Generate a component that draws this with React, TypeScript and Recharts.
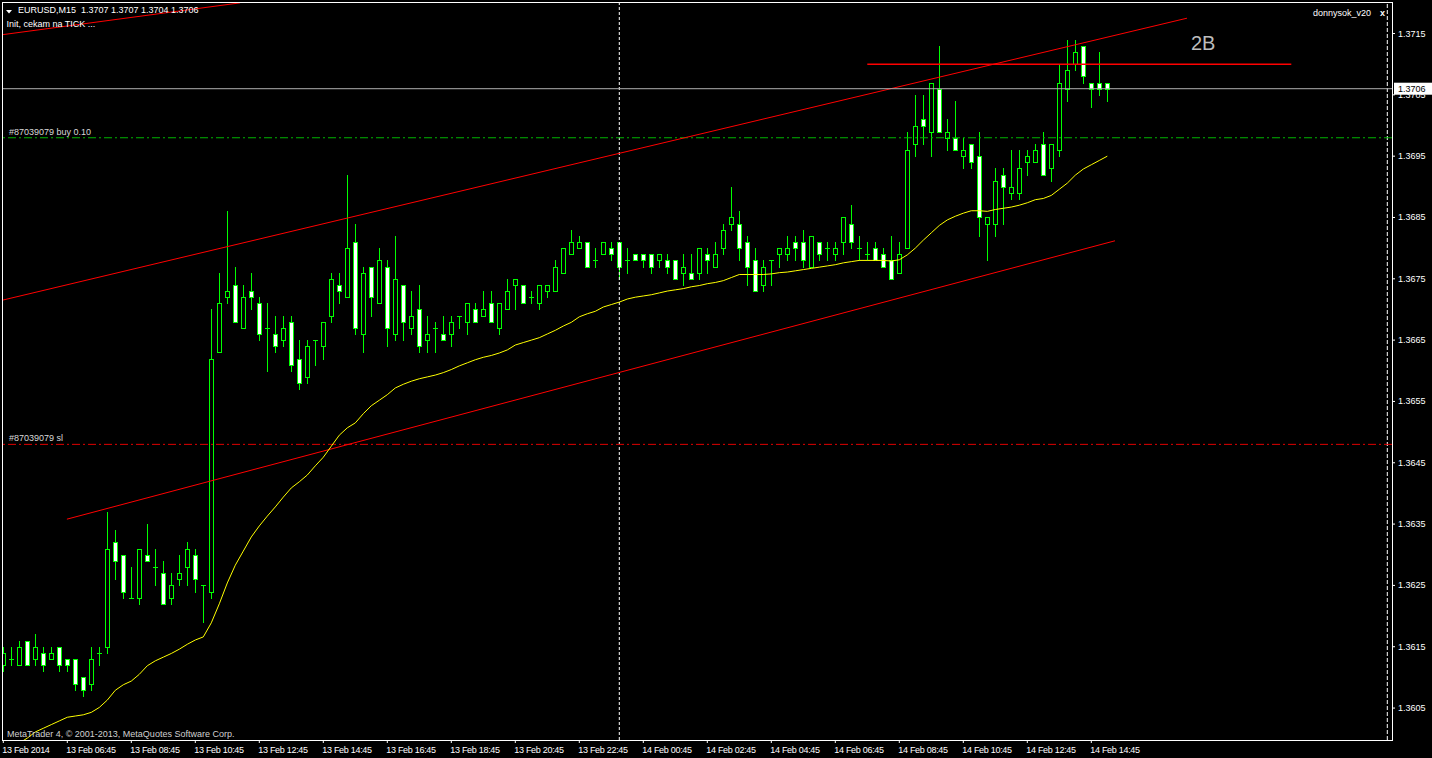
import { ComposedChart, Bar, Line, XAxis, YAxis, ReferenceLine } from "recharts";

const FONT = "'Liberation Sans', Arial, sans-serif";
const LIME = "#00ff00";

// EURUSD M15, one bar every 15 minutes from 13 Feb 04:45 (index 0) to 14 Feb 15:15 (index 138)
const opens = [
  1.3612, 1.3613, 1.3612, 1.3616, 1.3613, 1.3614, 1.3613, 1.3615, 1.3613, 1.3613,
  1.3610, 1.3609, 1.3614, 1.3615, 1.3632, 1.3630, 1.3623, 1.3623, 1.3630, 1.3628,
  1.3627, 1.3623, 1.3626, 1.3628, 1.3630, 1.3625, 1.3624, 1.3663, 1.3672, 1.3674,
  1.3667, 1.3673, 1.3671, 1.3667, 1.3666, 1.3665, 1.3668, 1.3662, 1.3659, 1.3665,
  1.3664, 1.3669, 1.3674, 1.3672, 1.3681, 1.3666, 1.3677, 1.3671, 1.3677, 1.3666,
  1.3674, 1.3667, 1.3670, 1.3665, 1.3667, 1.3666, 1.3666, 1.3669, 1.3668, 1.3670,
  1.3669, 1.3671, 1.3667, 1.3670, 1.3674, 1.3674, 1.3672, 1.3671, 1.3673, 1.3673,
  1.3676, 1.3679, 1.3680, 1.3681, 1.3678, 1.3679, 1.3680, 1.3681, 1.3678, 1.3679,
  1.3679, 1.3679, 1.3678, 1.3678, 1.3678, 1.3676, 1.3676, 1.3676, 1.3679, 1.3677,
  1.3680, 1.3684, 1.3684, 1.3681, 1.3678, 1.3674, 1.3678, 1.3679, 1.3679, 1.3681,
  1.3681, 1.3677, 1.3681, 1.3680, 1.3679, 1.3681, 1.3684, 1.3680, 1.3679, 1.3680,
  1.3679, 1.3678, 1.3676, 1.3680, 1.3697, 1.3701, 1.3699, 1.3706, 1.3698, 1.3698,
  1.3695, 1.3697, 1.3695, 1.3684, 1.3684, 1.3692, 1.3689, 1.3689, 1.3694, 1.3694,
  1.3697, 1.3693, 1.3696, 1.3706, 1.3710, 1.3713, 1.3707, 1.3707, 1.3707,
];
const highs = [
  1.3615, 1.3615, 1.3616, 1.3616, 1.3617, 1.3615, 1.3615, 1.3615, 1.3613, 1.3613,
  1.3610, 1.3615, 1.3615, 1.3637, 1.3634, 1.3630, 1.3628, 1.3631, 1.3635, 1.3631,
  1.3629, 1.3627, 1.3630, 1.3632, 1.3631, 1.3625, 1.3670, 1.3676, 1.3686, 1.3677,
  1.3674, 1.3676, 1.3672, 1.3671, 1.3669, 1.3669, 1.3669, 1.3665, 1.3665, 1.3665,
  1.3668, 1.3676, 1.3676, 1.3692, 1.3684, 1.3677, 1.3677, 1.3680, 1.3678, 1.3682,
  1.3674, 1.3673, 1.3674, 1.3669, 1.3668, 1.3669, 1.3669, 1.3669, 1.3671, 1.3671,
  1.3673, 1.3673, 1.3671, 1.3675, 1.3675, 1.3674, 1.3673, 1.3674, 1.3674, 1.3678,
  1.3680, 1.3683, 1.3682, 1.3681, 1.3680, 1.3681, 1.3681, 1.3681, 1.3680, 1.3679,
  1.3679, 1.3679, 1.3679, 1.3679, 1.3678, 1.3679, 1.3679, 1.3680, 1.3680, 1.3681,
  1.3684, 1.3690, 1.3686, 1.3682, 1.3680, 1.3678, 1.3678, 1.3680, 1.3682, 1.3682,
  1.3683, 1.3682, 1.3681, 1.3681, 1.3681, 1.3685, 1.3687, 1.3682, 1.3681, 1.3681,
  1.3680, 1.3682, 1.3681, 1.3699, 1.3705, 1.3705, 1.3707, 1.3713, 1.3701, 1.3704,
  1.3698, 1.3697, 1.3699, 1.3685, 1.3693, 1.3693, 1.3696, 1.3696, 1.3696, 1.3697,
  1.3699, 1.3697, 1.3710, 1.3714, 1.3714, 1.3713, 1.3707, 1.3712, 1.3707,
];
const lows = [
  1.3611, 1.3612, 1.3612, 1.3612, 1.3612, 1.3611, 1.3613, 1.3611, 1.3611, 1.3608,
  1.3607, 1.3608, 1.3612, 1.3614, 1.3626, 1.3623, 1.3623, 1.3622, 1.3629, 1.3625,
  1.3622, 1.3622, 1.3625, 1.3625, 1.3624, 1.3619, 1.3623, 1.3663, 1.3671, 1.3668,
  1.3667, 1.3670, 1.3665, 1.3660, 1.3663, 1.3664, 1.3660, 1.3657, 1.3658, 1.3661,
  1.3662, 1.3668, 1.3671, 1.3672, 1.3666, 1.3663, 1.3669, 1.3671, 1.3664, 1.3665,
  1.3665, 1.3666, 1.3663, 1.3663, 1.3663, 1.3665, 1.3664, 1.3667, 1.3666, 1.3668,
  1.3669, 1.3668, 1.3666, 1.3670, 1.3670, 1.3671, 1.3671, 1.3670, 1.3672, 1.3673,
  1.3676, 1.3679, 1.3680, 1.3677, 1.3677, 1.3679, 1.3678, 1.3675, 1.3676, 1.3678,
  1.3677, 1.3676, 1.3677, 1.3676, 1.3675, 1.3674, 1.3675, 1.3675, 1.3676, 1.3677,
  1.3679, 1.3683, 1.3678, 1.3674, 1.3673, 1.3673, 1.3674, 1.3677, 1.3678, 1.3678,
  1.3677, 1.3677, 1.3678, 1.3678, 1.3678, 1.3679, 1.3680, 1.3678, 1.3678, 1.3678,
  1.3677, 1.3675, 1.3676, 1.3680, 1.3695, 1.3697, 1.3695, 1.3699, 1.3696, 1.3696,
  1.3693, 1.3693, 1.3682, 1.3678, 1.3682, 1.3684, 1.3688, 1.3688, 1.3692, 1.3694,
  1.3692, 1.3691, 1.3695, 1.3704, 1.3709, 1.3707, 1.3703, 1.3705, 1.3704,
];
const closes = [
  1.3614, 1.3613, 1.3615, 1.3612, 1.3615, 1.3612, 1.3614, 1.3612, 1.3612, 1.3609,
  1.3608, 1.3613, 1.3614, 1.3631, 1.3629, 1.3624, 1.3623, 1.3631, 1.3629, 1.3628,
  1.3622, 1.3625, 1.3627, 1.3631, 1.3626, 1.3625, 1.3662, 1.3671, 1.3673, 1.3668,
  1.3672, 1.3672, 1.3666, 1.3667, 1.3664, 1.3667, 1.3661, 1.3658, 1.3664, 1.3665,
  1.3668, 1.3675, 1.3673, 1.3680, 1.3667, 1.3676, 1.3672, 1.3678, 1.3667, 1.3675,
  1.3668, 1.3669, 1.3664, 1.3666, 1.3667, 1.3665, 1.3668, 1.3669, 1.3671, 1.3668,
  1.3670, 1.3668, 1.3671, 1.3673, 1.3675, 1.3671, 1.3672, 1.3674, 1.3674, 1.3677,
  1.3680, 1.3681, 1.3681, 1.3677, 1.3678, 1.3681, 1.3679, 1.3677, 1.3678, 1.3678,
  1.3678, 1.3677, 1.3679, 1.3677, 1.3675, 1.3677, 1.3675, 1.3680, 1.3678, 1.3679,
  1.3683, 1.3685, 1.3680, 1.3677, 1.3673, 1.3677, 1.3678, 1.3680, 1.3680, 1.3680,
  1.3678, 1.3682, 1.3679, 1.3680, 1.3680, 1.3685, 1.3681, 1.3680, 1.3679, 1.3678,
  1.3677, 1.3675, 1.3679, 1.3696, 1.3700, 1.3700, 1.3707, 1.3699, 1.3699, 1.3696,
  1.3696, 1.3694, 1.3685, 1.3685, 1.3691, 1.3690, 1.3690, 1.3693, 1.3695, 1.3696,
  1.3692, 1.3697, 1.3707, 1.3709, 1.3712, 1.3708, 1.3706, 1.3706, 1.3706,
];
// yellow moving average at every bar
const maValues = [
  1.35973, 1.35982, 1.35993, 1.36001, 1.36011, 1.36017, 1.36023, 1.36029, 1.36035, 1.36037,
  1.36039, 1.36043, 1.36051, 1.36063, 1.36079, 1.36088, 1.36094, 1.36105, 1.36119, 1.36127,
  1.36133, 1.36139, 1.36146, 1.36154, 1.36161, 1.36166, 1.36189, 1.36220, 1.36254, 1.36283,
  1.36306, 1.36329, 1.36347, 1.36363, 1.36378, 1.36394, 1.36409, 1.36419, 1.36430, 1.36445,
  1.36459, 1.36477, 1.36495, 1.36507, 1.36515, 1.36530, 1.36543, 1.36552, 1.36561, 1.36572,
  1.36578, 1.36583, 1.36587, 1.36590, 1.36593, 1.36597, 1.36602, 1.36608, 1.36613, 1.36618,
  1.36622, 1.36625, 1.36629, 1.36634, 1.36642, 1.36646, 1.36650, 1.36654, 1.36660, 1.36666,
  1.36673, 1.36679, 1.36688, 1.36693, 1.36697, 1.36704, 1.36708, 1.36712, 1.36717, 1.36720,
  1.36722, 1.36724, 1.36727, 1.36730, 1.36732, 1.36734, 1.36737, 1.36739, 1.36742, 1.36744,
  1.36747, 1.36752, 1.36757, 1.36757, 1.36757, 1.36757, 1.36758, 1.36760, 1.36761, 1.36763,
  1.36765, 1.36767, 1.36769, 1.36771, 1.36773, 1.36776, 1.36778, 1.36780, 1.36780, 1.36780,
  1.36780, 1.36779, 1.36781, 1.36789, 1.36800, 1.36813, 1.36825, 1.36837, 1.36846, 1.36852,
  1.36857, 1.36861, 1.36861, 1.36860, 1.36863, 1.36865, 1.36867, 1.36870, 1.36874, 1.36879,
  1.36881, 1.36886, 1.36896, 1.36906, 1.36919, 1.36929, 1.36936, 1.36943, 1.36950,
];

const timeTicks = [0, 8, 16, 24, 32, 40, 48, 56, 64, 72, 80, 88, 96, 104, 112, 120, 128, 136];
const timeLabels = [
  "13 Feb 2014", "13 Feb 06:45", "13 Feb 08:45", "13 Feb 10:45", "13 Feb 12:45", "13 Feb 14:45",
  "13 Feb 16:45", "13 Feb 18:45", "13 Feb 20:45", "13 Feb 22:45", "14 Feb 00:45", "14 Feb 02:45",
  "14 Feb 04:45", "14 Feb 06:45", "14 Feb 08:45", "14 Feb 10:45", "14 Feb 12:45", "14 Feb 14:45",
];
const priceTicks = [1.3605, 1.3615, 1.3625, 1.3635, 1.3645, 1.3655, 1.3665, 1.3675, 1.3685, 1.3695, 1.3705, 1.3715];

const bidPrice = 1.3706;
const buyPrice = 1.3698;
const slPrice = 1.3648;
const levelPrice = 1.371;
const daySeparator = 77;
const markerBar = 173;

// trend lines drawn on the chart (bar index, price)
const upperChannel = [{ x: -0.16, y: 1.36715 }, { x: 147.96, y: 1.37175 }];
const lowerChannel = [{ x: 7.95, y: 1.36358 }, { x: 138.96, y: 1.36812 }];
const topLine = [{ x: -0.16, y: 1.37148 }, { x: 29.6, y: 1.372 }];
const levelLine = [{ x: 108, y: levelPrice }, { x: 161, y: levelPrice }];

const data = opens.map((o, i) => ({
  i,
  o,
  h: highs[i],
  l: lows[i],
  c: closes[i],
  range: [lows[i], highs[i]],
  ma: maValues[i],
}));

function Candle(props: any) {
  const { x, y, width, height, payload } = props;
  if (x == null || y == null || !payload) return null;
  const { o, h, l, c } = payload;
  const top0 = Math.min(y, y + height);
  const hh = Math.abs(height);
  const span = h - l;
  const py = (p: number) => Math.round(span > 0 ? top0 + ((h - p) / span) * hh : top0);
  const col = Math.round(x + width / 2);
  const bodyTop = py(Math.max(o, c)) + 0.5;
  const bodyBot = py(Math.min(o, c)) + 0.5;
  return (
    <g>
      <line x1={col + 0.5} x2={col + 0.5} y1={py(h)} y2={py(l) + 1} stroke={LIME} strokeWidth={1} />
      {o === c ? (
        <line x1={col - 2} x2={col + 3} y1={bodyTop} y2={bodyTop} stroke={LIME} strokeWidth={1} />
      ) : (
        <rect
          x={col - 1.5}
          y={bodyTop}
          width={4}
          height={bodyBot - bodyTop}
          fill={c < o ? "#ffffff" : "#000000"}
          stroke={LIME}
          strokeWidth={1}
        />
      )}
    </g>
  );
}

function TimeTick(props: any) {
  const { x, y, payload } = props;
  const label = timeLabels[timeTicks.indexOf(payload.value)];
  return (
    <text x={x - 1} y={y + 8} fill="#ffffff" fontSize={9} fontFamily={FONT} letterSpacing={-0.3} textAnchor="start">
      {label}
    </text>
  );
}

function PriceTick(props: any) {
  const { x, y, payload } = props;
  return (
    <text x={x} y={y + 3} fill="#ffffff" fontSize={9} fontFamily={FONT} textAnchor="start">
      {Number(payload.value).toFixed(4)}
    </text>
  );
}

function viewBoxOf(props: any) {
  const vb = props.viewBox || props;
  const x = vb.x ?? vb.x1 ?? 0;
  const y = vb.y ?? vb.y1 ?? 0;
  const width = vb.width ?? (vb.x2 != null ? vb.x2 - x : 0);
  return { x, y, width };
}

function BidBox(props: any) {
  const { x, y, width } = viewBoxOf(props);
  const right = x + width;
  return (
    <g>
      <rect x={right + 2} y={y - 6} width={40} height={12} fill="#ffffff" />
      <text x={right + 6} y={y + 3.5} fill="#000000" fontSize={9} fontFamily={FONT}>
        {bidPrice.toFixed(4)}
      </text>
    </g>
  );
}

function OrderLabel(text: string) {
  return (props: any) => {
    const { x, y } = viewBoxOf(props);
    return (
      <text x={x + 7} y={y - 3} fill="#d8d8d8" fontSize={9} fontFamily={FONT}>
        {text}
      </text>
    );
  };
}

export default function App() {
  return (
    <div style={{ position: "relative", width: 1432, height: 758, background: "#000" }}>
      <style>{"body{margin:0;background:#000}"}</style>
      <ComposedChart width={1432} height={758} data={data} margin={{ top: 2, right: 0, bottom: 0, left: 2 }}>
        <XAxis
          dataKey="i"
          type="number"
          domain={[-0.1625, 173.5875]}
          ticks={timeTicks}
          interval={0}
          tick={<TimeTick />}
          tickSize={3}
          tickLine={{ stroke: "#ffffff" }}
          axisLine={false}
          height={18}
          allowDataOverflow
        />
        <YAxis
          orientation="right"
          type="number"
          domain={[1.359979, 1.372014]}
          ticks={priceTicks}
          interval={0}
          tick={<PriceTick />}
          tickSize={3}
          tickMargin={3}
          tickLine={{ stroke: "#ffffff" }}
          axisLine={false}
          width={40}
          allowDataOverflow
        />
        <ReferenceLine x={daySeparator} stroke="#ffffff" strokeDasharray="3 2" />
        <ReferenceLine x={markerBar} stroke="#ffffff" strokeDasharray="4 2" />
        <ReferenceLine y={buyPrice} stroke="#00b400" strokeDasharray="8 3 2 3" label={OrderLabel("#87039079 buy 0.10")} />
        <ReferenceLine y={slPrice} stroke="#e00000" strokeDasharray="8 3 2 3" label={OrderLabel("#87039079 sl")} />
        <ReferenceLine segment={upperChannel} stroke="#ff0000" ifOverflow="hidden" />
        <ReferenceLine segment={lowerChannel} stroke="#ff0000" ifOverflow="hidden" />
        <ReferenceLine segment={topLine} stroke="#ff0000" ifOverflow="hidden" />
        <ReferenceLine segment={levelLine} stroke="#ff0000" strokeWidth={1.5} ifOverflow="hidden" />
        <Line dataKey="ma" stroke="#ffff00" strokeWidth={1} dot={false} activeDot={false} isAnimationActive={false} />
        <Bar dataKey="range" barSize={5} shape={<Candle />} isAnimationActive={false} />
        <ReferenceLine y={bidPrice} stroke="#b0b0b0" label={<BidBox />} />
      </ComposedChart>

      <div
        style={{
          position: "absolute",
          left: 2,
          top: 2,
          width: 1391,
          height: 739,
          boxSizing: "border-box",
          border: "1px solid #ffffff",
          pointerEvents: "none",
        }}
      />

      <svg width={1432} height={758} style={{ position: "absolute", left: 0, top: 0, pointerEvents: "none" }}>
        <polygon points="6,10 12,10 9,13.5" fill="#ffffff" />
        <text x={18} y={13.3} fill="#ffffff" fontSize={9} fontFamily={FONT} style={{ whiteSpace: "pre" }}>
          {"EURUSD,M15  1.3707 1.3707 1.3704 1.3706"}
        </text>
        <text x={6.5} y={27} fill="#ffffff" fontSize={9} fontFamily={FONT}>
          Init, cekam na TICK ...
        </text>
        <text x={1313} y={15.5} fill="#ffffff" fontSize={9} fontFamily={FONT}>
          donnysok_v20
        </text>
        <text x={1380} y={15.5} fill="#ffffff" fontSize={9} fontWeight="bold" fontFamily={FONT}>
          x
        </text>
        <text x={1191} y={50} fill="#bcbcbc" fontSize={20} fontFamily={FONT}>
          2B
        </text>
        <text x={7} y={736.5} fill="#d0d0d0" fontSize={9} fontFamily={FONT}>
          MetaTrader 4, © 2001-2013, MetaQuotes Software Corp.
        </text>
      </svg>
    </div>
  );
}
